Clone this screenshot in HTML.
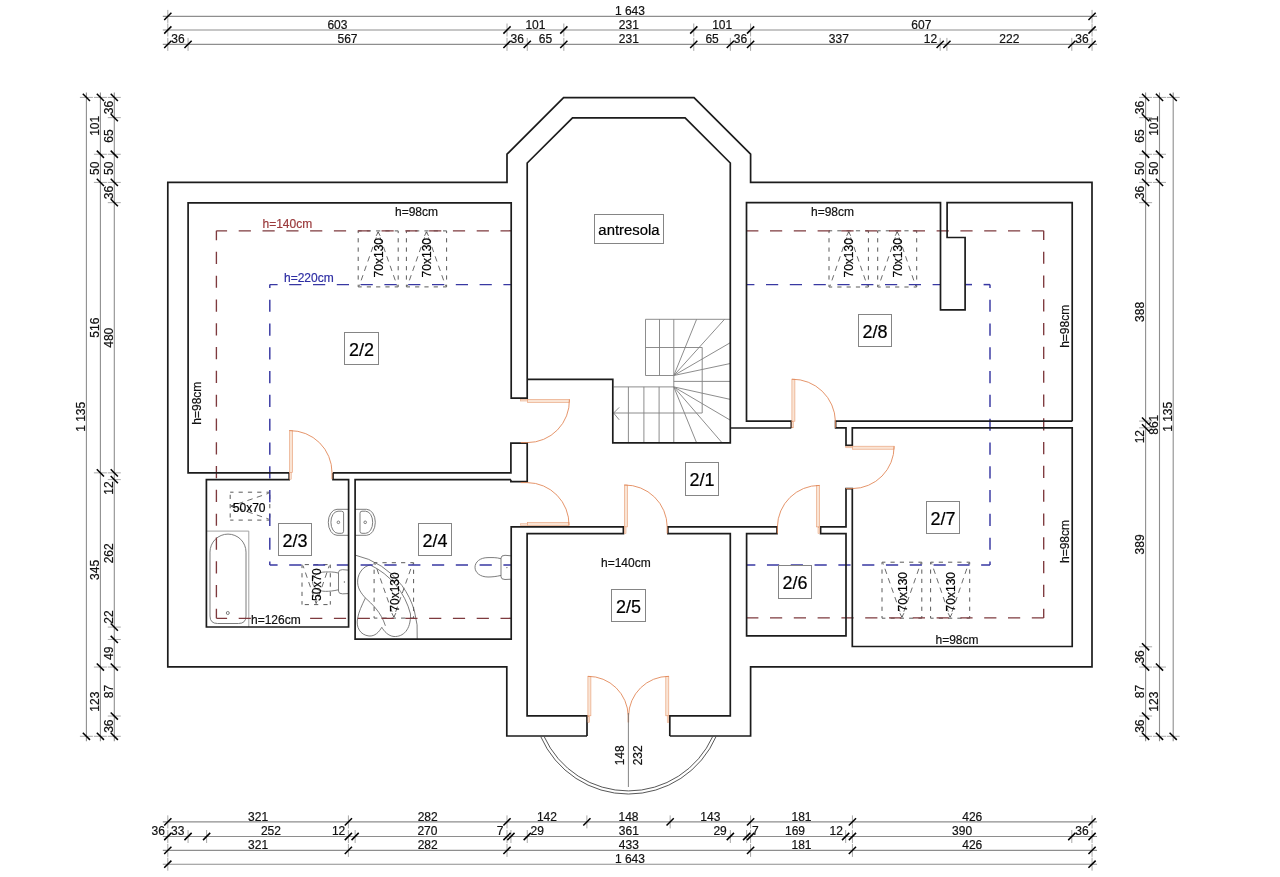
<!DOCTYPE html>
<html><head><meta charset="utf-8"><style>html,body{margin:0;padding:0;background:#fff;overflow:hidden}</style></head>
<body>
<svg width="1280" height="877" viewBox="0 0 1280 877" style="display:block;will-change:transform">
<rect width="1280" height="877" fill="#fff"/>
<g font-family='"Liberation Sans", sans-serif'>
<line x1="162.8" y1="16.4" x2="1097.05" y2="16.4" stroke="#8e8e8e" stroke-width="1.1" />
<line x1="167.8" y1="9.9" x2="167.8" y2="22.9" stroke="#a8a8a8" stroke-width="1" />
<line x1="1092.05" y1="9.9" x2="1092.05" y2="22.9" stroke="#a8a8a8" stroke-width="1" />
<line x1="164.2" y1="20" x2="171.4" y2="12.8" stroke="#000" stroke-width="1.5" />
<line x1="1088.45" y1="20" x2="1095.65" y2="12.8" stroke="#000" stroke-width="1.5" />
<text x="629.93" y="15.3" font-size="12" text-anchor="middle" fill="#111" stroke="#111" stroke-width="0.2" >1 643</text>
<line x1="162.8" y1="30" x2="1097.05" y2="30" stroke="#8e8e8e" stroke-width="1.1" />
<line x1="167.8" y1="23.5" x2="167.8" y2="36.5" stroke="#a8a8a8" stroke-width="1" />
<line x1="507.01" y1="23.5" x2="507.01" y2="36.5" stroke="#a8a8a8" stroke-width="1" />
<line x1="563.83" y1="23.5" x2="563.83" y2="36.5" stroke="#a8a8a8" stroke-width="1" />
<line x1="693.77" y1="23.5" x2="693.77" y2="36.5" stroke="#a8a8a8" stroke-width="1" />
<line x1="750.59" y1="23.5" x2="750.59" y2="36.5" stroke="#a8a8a8" stroke-width="1" />
<line x1="1092.05" y1="23.5" x2="1092.05" y2="36.5" stroke="#a8a8a8" stroke-width="1" />
<line x1="164.2" y1="33.6" x2="171.4" y2="26.4" stroke="#000" stroke-width="1.5" />
<line x1="503.41" y1="33.6" x2="510.61" y2="26.4" stroke="#000" stroke-width="1.5" />
<line x1="560.23" y1="33.6" x2="567.43" y2="26.4" stroke="#000" stroke-width="1.5" />
<line x1="690.17" y1="33.6" x2="697.37" y2="26.4" stroke="#000" stroke-width="1.5" />
<line x1="746.99" y1="33.6" x2="754.19" y2="26.4" stroke="#000" stroke-width="1.5" />
<line x1="1088.45" y1="33.6" x2="1095.65" y2="26.4" stroke="#000" stroke-width="1.5" />
<text x="337.41" y="28.9" font-size="12" text-anchor="middle" fill="#111" stroke="#111" stroke-width="0.2" >603</text>
<text x="535.42" y="28.9" font-size="12" text-anchor="middle" fill="#111" stroke="#111" stroke-width="0.2" >101</text>
<text x="628.8" y="28.9" font-size="12" text-anchor="middle" fill="#111" stroke="#111" stroke-width="0.2" >231</text>
<text x="722.18" y="28.9" font-size="12" text-anchor="middle" fill="#111" stroke="#111" stroke-width="0.2" >101</text>
<text x="921.32" y="28.9" font-size="12" text-anchor="middle" fill="#111" stroke="#111" stroke-width="0.2" >607</text>
<line x1="162.8" y1="44.4" x2="1097.05" y2="44.4" stroke="#8e8e8e" stroke-width="1.1" />
<line x1="167.8" y1="37.9" x2="167.8" y2="50.9" stroke="#a8a8a8" stroke-width="1" />
<line x1="188.05" y1="37.9" x2="188.05" y2="50.9" stroke="#a8a8a8" stroke-width="1" />
<line x1="507.01" y1="37.9" x2="507.01" y2="50.9" stroke="#a8a8a8" stroke-width="1" />
<line x1="527.26" y1="37.9" x2="527.26" y2="50.9" stroke="#a8a8a8" stroke-width="1" />
<line x1="563.83" y1="37.9" x2="563.83" y2="50.9" stroke="#a8a8a8" stroke-width="1" />
<line x1="693.77" y1="37.9" x2="693.77" y2="50.9" stroke="#a8a8a8" stroke-width="1" />
<line x1="730.34" y1="37.9" x2="730.34" y2="50.9" stroke="#a8a8a8" stroke-width="1" />
<line x1="750.59" y1="37.9" x2="750.59" y2="50.9" stroke="#a8a8a8" stroke-width="1" />
<line x1="940.17" y1="37.9" x2="940.17" y2="50.9" stroke="#a8a8a8" stroke-width="1" />
<line x1="946.92" y1="37.9" x2="946.92" y2="50.9" stroke="#a8a8a8" stroke-width="1" />
<line x1="1071.8" y1="37.9" x2="1071.8" y2="50.9" stroke="#a8a8a8" stroke-width="1" />
<line x1="1092.05" y1="37.9" x2="1092.05" y2="50.9" stroke="#a8a8a8" stroke-width="1" />
<line x1="164.2" y1="48" x2="171.4" y2="40.8" stroke="#000" stroke-width="1.5" />
<line x1="184.45" y1="48" x2="191.65" y2="40.8" stroke="#000" stroke-width="1.5" />
<line x1="503.41" y1="48" x2="510.61" y2="40.8" stroke="#000" stroke-width="1.5" />
<line x1="523.66" y1="48" x2="530.86" y2="40.8" stroke="#000" stroke-width="1.5" />
<line x1="560.23" y1="48" x2="567.43" y2="40.8" stroke="#000" stroke-width="1.5" />
<line x1="690.17" y1="48" x2="697.37" y2="40.8" stroke="#000" stroke-width="1.5" />
<line x1="726.74" y1="48" x2="733.94" y2="40.8" stroke="#000" stroke-width="1.5" />
<line x1="746.99" y1="48" x2="754.19" y2="40.8" stroke="#000" stroke-width="1.5" />
<line x1="936.57" y1="48" x2="943.77" y2="40.8" stroke="#000" stroke-width="1.5" />
<line x1="943.32" y1="48" x2="950.52" y2="40.8" stroke="#000" stroke-width="1.5" />
<line x1="1068.2" y1="48" x2="1075.4" y2="40.8" stroke="#000" stroke-width="1.5" />
<line x1="1088.45" y1="48" x2="1095.65" y2="40.8" stroke="#000" stroke-width="1.5" />
<text x="177.93" y="43.3" font-size="12" text-anchor="middle" fill="#111" stroke="#111" stroke-width="0.2" >36</text>
<text x="347.53" y="43.3" font-size="12" text-anchor="middle" fill="#111" stroke="#111" stroke-width="0.2" >567</text>
<text x="517.14" y="43.3" font-size="12" text-anchor="middle" fill="#111" stroke="#111" stroke-width="0.2" >36</text>
<text x="545.55" y="43.3" font-size="12" text-anchor="middle" fill="#111" stroke="#111" stroke-width="0.2" >65</text>
<text x="628.8" y="43.3" font-size="12" text-anchor="middle" fill="#111" stroke="#111" stroke-width="0.2" >231</text>
<text x="712.06" y="43.3" font-size="12" text-anchor="middle" fill="#111" stroke="#111" stroke-width="0.2" >65</text>
<text x="740.47" y="43.3" font-size="12" text-anchor="middle" fill="#111" stroke="#111" stroke-width="0.2" >36</text>
<text x="838.8" y="43.3" font-size="12" text-anchor="middle" fill="#111" stroke="#111" stroke-width="0.2" >337</text>
<text x="930.5" y="43.3" font-size="12" text-anchor="middle" fill="#111" stroke="#111" stroke-width="0.2" >12</text>
<text x="1009.36" y="43.3" font-size="12" text-anchor="middle" fill="#111" stroke="#111" stroke-width="0.2" >222</text>
<text x="1081.93" y="43.3" font-size="12" text-anchor="middle" fill="#111" stroke="#111" stroke-width="0.2" >36</text>
<line x1="162.8" y1="821.9" x2="1097.05" y2="821.9" stroke="#8e8e8e" stroke-width="1.1" />
<line x1="167.8" y1="815.4" x2="167.8" y2="828.4" stroke="#a8a8a8" stroke-width="1" />
<line x1="348.38" y1="815.4" x2="348.38" y2="828.4" stroke="#a8a8a8" stroke-width="1" />
<line x1="507.01" y1="815.4" x2="507.01" y2="828.4" stroke="#a8a8a8" stroke-width="1" />
<line x1="586.89" y1="815.4" x2="586.89" y2="828.4" stroke="#a8a8a8" stroke-width="1" />
<line x1="670.15" y1="815.4" x2="670.15" y2="828.4" stroke="#a8a8a8" stroke-width="1" />
<line x1="750.59" y1="815.4" x2="750.59" y2="828.4" stroke="#a8a8a8" stroke-width="1" />
<line x1="852.41" y1="815.4" x2="852.41" y2="828.4" stroke="#a8a8a8" stroke-width="1" />
<line x1="1092.05" y1="815.4" x2="1092.05" y2="828.4" stroke="#a8a8a8" stroke-width="1" />
<line x1="164.2" y1="825.5" x2="171.4" y2="818.3" stroke="#000" stroke-width="1.5" />
<line x1="344.78" y1="825.5" x2="351.98" y2="818.3" stroke="#000" stroke-width="1.5" />
<line x1="503.41" y1="825.5" x2="510.61" y2="818.3" stroke="#000" stroke-width="1.5" />
<line x1="583.29" y1="825.5" x2="590.49" y2="818.3" stroke="#000" stroke-width="1.5" />
<line x1="666.55" y1="825.5" x2="673.75" y2="818.3" stroke="#000" stroke-width="1.5" />
<line x1="746.99" y1="825.5" x2="754.19" y2="818.3" stroke="#000" stroke-width="1.5" />
<line x1="848.81" y1="825.5" x2="856.01" y2="818.3" stroke="#000" stroke-width="1.5" />
<line x1="1088.45" y1="825.5" x2="1095.65" y2="818.3" stroke="#000" stroke-width="1.5" />
<text x="258.09" y="820.8" font-size="12" text-anchor="middle" fill="#111" stroke="#111" stroke-width="0.2" >321</text>
<text x="427.69" y="820.8" font-size="12" text-anchor="middle" fill="#111" stroke="#111" stroke-width="0.2" >282</text>
<text x="546.95" y="820.8" font-size="12" text-anchor="middle" fill="#111" stroke="#111" stroke-width="0.2" >142</text>
<text x="628.52" y="820.8" font-size="12" text-anchor="middle" fill="#111" stroke="#111" stroke-width="0.2" >148</text>
<text x="710.37" y="820.8" font-size="12" text-anchor="middle" fill="#111" stroke="#111" stroke-width="0.2" >143</text>
<text x="801.5" y="820.8" font-size="12" text-anchor="middle" fill="#111" stroke="#111" stroke-width="0.2" >181</text>
<text x="972.23" y="820.8" font-size="12" text-anchor="middle" fill="#111" stroke="#111" stroke-width="0.2" >426</text>
<line x1="162.8" y1="836.5" x2="1097.05" y2="836.5" stroke="#8e8e8e" stroke-width="1.1" />
<line x1="167.8" y1="830" x2="167.8" y2="843" stroke="#a8a8a8" stroke-width="1" />
<line x1="188.05" y1="830" x2="188.05" y2="843" stroke="#a8a8a8" stroke-width="1" />
<line x1="206.62" y1="830" x2="206.62" y2="843" stroke="#a8a8a8" stroke-width="1" />
<line x1="348.38" y1="830" x2="348.38" y2="843" stroke="#a8a8a8" stroke-width="1" />
<line x1="355.13" y1="830" x2="355.13" y2="843" stroke="#a8a8a8" stroke-width="1" />
<line x1="507.01" y1="830" x2="507.01" y2="843" stroke="#a8a8a8" stroke-width="1" />
<line x1="510.95" y1="830" x2="510.95" y2="843" stroke="#a8a8a8" stroke-width="1" />
<line x1="527.26" y1="830" x2="527.26" y2="843" stroke="#a8a8a8" stroke-width="1" />
<line x1="730.34" y1="830" x2="730.34" y2="843" stroke="#a8a8a8" stroke-width="1" />
<line x1="746.65" y1="830" x2="746.65" y2="843" stroke="#a8a8a8" stroke-width="1" />
<line x1="750.59" y1="830" x2="750.59" y2="843" stroke="#a8a8a8" stroke-width="1" />
<line x1="845.66" y1="830" x2="845.66" y2="843" stroke="#a8a8a8" stroke-width="1" />
<line x1="852.41" y1="830" x2="852.41" y2="843" stroke="#a8a8a8" stroke-width="1" />
<line x1="1071.8" y1="830" x2="1071.8" y2="843" stroke="#a8a8a8" stroke-width="1" />
<line x1="1092.05" y1="830" x2="1092.05" y2="843" stroke="#a8a8a8" stroke-width="1" />
<line x1="164.2" y1="840.1" x2="171.4" y2="832.9" stroke="#000" stroke-width="1.5" />
<line x1="184.45" y1="840.1" x2="191.65" y2="832.9" stroke="#000" stroke-width="1.5" />
<line x1="203.02" y1="840.1" x2="210.22" y2="832.9" stroke="#000" stroke-width="1.5" />
<line x1="344.78" y1="840.1" x2="351.98" y2="832.9" stroke="#000" stroke-width="1.5" />
<line x1="351.53" y1="840.1" x2="358.73" y2="832.9" stroke="#000" stroke-width="1.5" />
<line x1="503.41" y1="840.1" x2="510.61" y2="832.9" stroke="#000" stroke-width="1.5" />
<line x1="507.35" y1="840.1" x2="514.55" y2="832.9" stroke="#000" stroke-width="1.5" />
<line x1="523.66" y1="840.1" x2="530.86" y2="832.9" stroke="#000" stroke-width="1.5" />
<line x1="726.74" y1="840.1" x2="733.94" y2="832.9" stroke="#000" stroke-width="1.5" />
<line x1="743.05" y1="840.1" x2="750.25" y2="832.9" stroke="#000" stroke-width="1.5" />
<line x1="746.99" y1="840.1" x2="754.19" y2="832.9" stroke="#000" stroke-width="1.5" />
<line x1="842.06" y1="840.1" x2="849.26" y2="832.9" stroke="#000" stroke-width="1.5" />
<line x1="848.81" y1="840.1" x2="856.01" y2="832.9" stroke="#000" stroke-width="1.5" />
<line x1="1068.2" y1="840.1" x2="1075.4" y2="832.9" stroke="#000" stroke-width="1.5" />
<line x1="1088.45" y1="840.1" x2="1095.65" y2="832.9" stroke="#000" stroke-width="1.5" />
<text x="158.2" y="835.4" font-size="12" text-anchor="middle" fill="#111" stroke="#111" stroke-width="0.2" >36</text>
<text x="177.8" y="835.4" font-size="12" text-anchor="middle" fill="#111" stroke="#111" stroke-width="0.2" >33</text>
<text x="270.9" y="835.4" font-size="12" text-anchor="middle" fill="#111" stroke="#111" stroke-width="0.2" >252</text>
<text x="338.6" y="835.4" font-size="12" text-anchor="middle" fill="#111" stroke="#111" stroke-width="0.2" >12</text>
<text x="427.4" y="835.4" font-size="12" text-anchor="middle" fill="#111" stroke="#111" stroke-width="0.2" >270</text>
<text x="500" y="835.4" font-size="12" text-anchor="middle" fill="#111" stroke="#111" stroke-width="0.2" >7</text>
<text x="537.2" y="835.4" font-size="12" text-anchor="middle" fill="#111" stroke="#111" stroke-width="0.2" >29</text>
<text x="628.8" y="835.4" font-size="12" text-anchor="middle" fill="#111" stroke="#111" stroke-width="0.2" >361</text>
<text x="720.1" y="835.4" font-size="12" text-anchor="middle" fill="#111" stroke="#111" stroke-width="0.2" >29</text>
<text x="755.4" y="835.4" font-size="12" text-anchor="middle" fill="#111" stroke="#111" stroke-width="0.2" >7</text>
<text x="795" y="835.4" font-size="12" text-anchor="middle" fill="#111" stroke="#111" stroke-width="0.2" >169</text>
<text x="836.2" y="835.4" font-size="12" text-anchor="middle" fill="#111" stroke="#111" stroke-width="0.2" >12</text>
<text x="962.11" y="835.4" font-size="12" text-anchor="middle" fill="#111" stroke="#111" stroke-width="0.2" >390</text>
<text x="1081.93" y="835.4" font-size="12" text-anchor="middle" fill="#111" stroke="#111" stroke-width="0.2" >36</text>
<line x1="162.8" y1="850.4" x2="1097.05" y2="850.4" stroke="#8e8e8e" stroke-width="1.1" />
<line x1="167.8" y1="843.9" x2="167.8" y2="856.9" stroke="#a8a8a8" stroke-width="1" />
<line x1="348.38" y1="843.9" x2="348.38" y2="856.9" stroke="#a8a8a8" stroke-width="1" />
<line x1="507.01" y1="843.9" x2="507.01" y2="856.9" stroke="#a8a8a8" stroke-width="1" />
<line x1="750.59" y1="843.9" x2="750.59" y2="856.9" stroke="#a8a8a8" stroke-width="1" />
<line x1="852.41" y1="843.9" x2="852.41" y2="856.9" stroke="#a8a8a8" stroke-width="1" />
<line x1="1092.05" y1="843.9" x2="1092.05" y2="856.9" stroke="#a8a8a8" stroke-width="1" />
<line x1="164.2" y1="854" x2="171.4" y2="846.8" stroke="#000" stroke-width="1.5" />
<line x1="344.78" y1="854" x2="351.98" y2="846.8" stroke="#000" stroke-width="1.5" />
<line x1="503.41" y1="854" x2="510.61" y2="846.8" stroke="#000" stroke-width="1.5" />
<line x1="746.99" y1="854" x2="754.19" y2="846.8" stroke="#000" stroke-width="1.5" />
<line x1="848.81" y1="854" x2="856.01" y2="846.8" stroke="#000" stroke-width="1.5" />
<line x1="1088.45" y1="854" x2="1095.65" y2="846.8" stroke="#000" stroke-width="1.5" />
<text x="258.09" y="849.3" font-size="12" text-anchor="middle" fill="#111" stroke="#111" stroke-width="0.2" >321</text>
<text x="427.69" y="849.3" font-size="12" text-anchor="middle" fill="#111" stroke="#111" stroke-width="0.2" >282</text>
<text x="628.8" y="849.3" font-size="12" text-anchor="middle" fill="#111" stroke="#111" stroke-width="0.2" >433</text>
<text x="801.5" y="849.3" font-size="12" text-anchor="middle" fill="#111" stroke="#111" stroke-width="0.2" >181</text>
<text x="972.23" y="849.3" font-size="12" text-anchor="middle" fill="#111" stroke="#111" stroke-width="0.2" >426</text>
<line x1="162.8" y1="864.2" x2="1097.05" y2="864.2" stroke="#8e8e8e" stroke-width="1.1" />
<line x1="167.8" y1="857.7" x2="167.8" y2="870.7" stroke="#a8a8a8" stroke-width="1" />
<line x1="1092.05" y1="857.7" x2="1092.05" y2="870.7" stroke="#a8a8a8" stroke-width="1" />
<line x1="164.2" y1="867.8" x2="171.4" y2="860.6" stroke="#000" stroke-width="1.5" />
<line x1="1088.45" y1="867.8" x2="1095.65" y2="860.6" stroke="#000" stroke-width="1.5" />
<text x="629.93" y="863.1" font-size="12" text-anchor="middle" fill="#111" stroke="#111" stroke-width="0.2" >1 643</text>
<line x1="86.4" y1="92.4" x2="86.4" y2="741.29" stroke="#8e8e8e" stroke-width="1.1" />
<line x1="79.9" y1="97.4" x2="92.9" y2="97.4" stroke="#a8a8a8" stroke-width="1" />
<line x1="79.9" y1="736.29" x2="92.9" y2="736.29" stroke="#a8a8a8" stroke-width="1" />
<line x1="82.8" y1="93.8" x2="90" y2="101" stroke="#000" stroke-width="1.5" />
<line x1="82.8" y1="732.69" x2="90" y2="739.89" stroke="#000" stroke-width="1.5" />
<text transform="translate(84.7,416.85) rotate(-90)" font-size="12" text-anchor="middle" fill="#111" stroke="#111" stroke-width="0.2" >1 135</text>
<line x1="100.4" y1="92.4" x2="100.4" y2="741.29" stroke="#8e8e8e" stroke-width="1.1" />
<line x1="93.9" y1="97.4" x2="106.9" y2="97.4" stroke="#a8a8a8" stroke-width="1" />
<line x1="93.9" y1="154.25" x2="106.9" y2="154.25" stroke="#a8a8a8" stroke-width="1" />
<line x1="93.9" y1="182.4" x2="106.9" y2="182.4" stroke="#a8a8a8" stroke-width="1" />
<line x1="93.9" y1="472.85" x2="106.9" y2="472.85" stroke="#a8a8a8" stroke-width="1" />
<line x1="93.9" y1="667.05" x2="106.9" y2="667.05" stroke="#a8a8a8" stroke-width="1" />
<line x1="93.9" y1="736.29" x2="106.9" y2="736.29" stroke="#a8a8a8" stroke-width="1" />
<line x1="96.8" y1="93.8" x2="104" y2="101" stroke="#000" stroke-width="1.5" />
<line x1="96.8" y1="150.65" x2="104" y2="157.85" stroke="#000" stroke-width="1.5" />
<line x1="96.8" y1="178.8" x2="104" y2="186" stroke="#000" stroke-width="1.5" />
<line x1="96.8" y1="469.25" x2="104" y2="476.45" stroke="#000" stroke-width="1.5" />
<line x1="96.8" y1="663.45" x2="104" y2="670.65" stroke="#000" stroke-width="1.5" />
<line x1="96.8" y1="732.69" x2="104" y2="739.89" stroke="#000" stroke-width="1.5" />
<text transform="translate(98.7,125.83) rotate(-90)" font-size="12" text-anchor="middle" fill="#111" stroke="#111" stroke-width="0.2" >101</text>
<text transform="translate(98.7,168.33) rotate(-90)" font-size="12" text-anchor="middle" fill="#111" stroke="#111" stroke-width="0.2" >50</text>
<text transform="translate(98.7,327.63) rotate(-90)" font-size="12" text-anchor="middle" fill="#111" stroke="#111" stroke-width="0.2" >516</text>
<text transform="translate(98.7,569.95) rotate(-90)" font-size="12" text-anchor="middle" fill="#111" stroke="#111" stroke-width="0.2" >345</text>
<text transform="translate(98.7,701.67) rotate(-90)" font-size="12" text-anchor="middle" fill="#111" stroke="#111" stroke-width="0.2" >123</text>
<line x1="114.3" y1="92.4" x2="114.3" y2="741.29" stroke="#8e8e8e" stroke-width="1.1" />
<line x1="107.8" y1="97.4" x2="120.8" y2="97.4" stroke="#a8a8a8" stroke-width="1" />
<line x1="107.8" y1="117.66" x2="120.8" y2="117.66" stroke="#a8a8a8" stroke-width="1" />
<line x1="107.8" y1="154.25" x2="120.8" y2="154.25" stroke="#a8a8a8" stroke-width="1" />
<line x1="107.8" y1="182.4" x2="120.8" y2="182.4" stroke="#a8a8a8" stroke-width="1" />
<line x1="107.8" y1="202.66" x2="120.8" y2="202.66" stroke="#a8a8a8" stroke-width="1" />
<line x1="107.8" y1="472.85" x2="120.8" y2="472.85" stroke="#a8a8a8" stroke-width="1" />
<line x1="107.8" y1="479.61" x2="120.8" y2="479.61" stroke="#a8a8a8" stroke-width="1" />
<line x1="107.8" y1="627.09" x2="120.8" y2="627.09" stroke="#a8a8a8" stroke-width="1" />
<line x1="107.8" y1="639.47" x2="120.8" y2="639.47" stroke="#a8a8a8" stroke-width="1" />
<line x1="107.8" y1="667.05" x2="120.8" y2="667.05" stroke="#a8a8a8" stroke-width="1" />
<line x1="107.8" y1="716.03" x2="120.8" y2="716.03" stroke="#a8a8a8" stroke-width="1" />
<line x1="107.8" y1="736.29" x2="120.8" y2="736.29" stroke="#a8a8a8" stroke-width="1" />
<line x1="110.7" y1="93.8" x2="117.9" y2="101" stroke="#000" stroke-width="1.5" />
<line x1="110.7" y1="114.06" x2="117.9" y2="121.26" stroke="#000" stroke-width="1.5" />
<line x1="110.7" y1="150.65" x2="117.9" y2="157.85" stroke="#000" stroke-width="1.5" />
<line x1="110.7" y1="178.8" x2="117.9" y2="186" stroke="#000" stroke-width="1.5" />
<line x1="110.7" y1="199.06" x2="117.9" y2="206.26" stroke="#000" stroke-width="1.5" />
<line x1="110.7" y1="469.25" x2="117.9" y2="476.45" stroke="#000" stroke-width="1.5" />
<line x1="110.7" y1="476.01" x2="117.9" y2="483.21" stroke="#000" stroke-width="1.5" />
<line x1="110.7" y1="623.49" x2="117.9" y2="630.69" stroke="#000" stroke-width="1.5" />
<line x1="110.7" y1="635.87" x2="117.9" y2="643.07" stroke="#000" stroke-width="1.5" />
<line x1="110.7" y1="663.45" x2="117.9" y2="670.65" stroke="#000" stroke-width="1.5" />
<line x1="110.7" y1="712.43" x2="117.9" y2="719.63" stroke="#000" stroke-width="1.5" />
<line x1="110.7" y1="732.69" x2="117.9" y2="739.89" stroke="#000" stroke-width="1.5" />
<text transform="translate(112.6,107.53) rotate(-90)" font-size="12" text-anchor="middle" fill="#111" stroke="#111" stroke-width="0.2" >36</text>
<text transform="translate(112.6,135.96) rotate(-90)" font-size="12" text-anchor="middle" fill="#111" stroke="#111" stroke-width="0.2" >65</text>
<text transform="translate(112.6,168.33) rotate(-90)" font-size="12" text-anchor="middle" fill="#111" stroke="#111" stroke-width="0.2" >50</text>
<text transform="translate(112.6,192.53) rotate(-90)" font-size="12" text-anchor="middle" fill="#111" stroke="#111" stroke-width="0.2" >36</text>
<text transform="translate(112.6,337.76) rotate(-90)" font-size="12" text-anchor="middle" fill="#111" stroke="#111" stroke-width="0.2" >480</text>
<text transform="translate(112.6,488) rotate(-90)" font-size="12" text-anchor="middle" fill="#111" stroke="#111" stroke-width="0.2" >12</text>
<text transform="translate(112.6,553.35) rotate(-90)" font-size="12" text-anchor="middle" fill="#111" stroke="#111" stroke-width="0.2" >262</text>
<text transform="translate(112.6,617) rotate(-90)" font-size="12" text-anchor="middle" fill="#111" stroke="#111" stroke-width="0.2" >22</text>
<text transform="translate(112.6,653.26) rotate(-90)" font-size="12" text-anchor="middle" fill="#111" stroke="#111" stroke-width="0.2" >49</text>
<text transform="translate(112.6,691.54) rotate(-90)" font-size="12" text-anchor="middle" fill="#111" stroke="#111" stroke-width="0.2" >87</text>
<text transform="translate(112.6,726.16) rotate(-90)" font-size="12" text-anchor="middle" fill="#111" stroke="#111" stroke-width="0.2" >36</text>
<line x1="1145.6" y1="92.4" x2="1145.6" y2="741.29" stroke="#8e8e8e" stroke-width="1.1" />
<line x1="1139.1" y1="97.4" x2="1152.1" y2="97.4" stroke="#a8a8a8" stroke-width="1" />
<line x1="1139.1" y1="117.66" x2="1152.1" y2="117.66" stroke="#a8a8a8" stroke-width="1" />
<line x1="1139.1" y1="154.25" x2="1152.1" y2="154.25" stroke="#a8a8a8" stroke-width="1" />
<line x1="1139.1" y1="182.4" x2="1152.1" y2="182.4" stroke="#a8a8a8" stroke-width="1" />
<line x1="1139.1" y1="202.66" x2="1152.1" y2="202.66" stroke="#a8a8a8" stroke-width="1" />
<line x1="1139.1" y1="421.07" x2="1152.1" y2="421.07" stroke="#a8a8a8" stroke-width="1" />
<line x1="1139.1" y1="427.82" x2="1152.1" y2="427.82" stroke="#a8a8a8" stroke-width="1" />
<line x1="1139.1" y1="646.79" x2="1152.1" y2="646.79" stroke="#a8a8a8" stroke-width="1" />
<line x1="1139.1" y1="667.05" x2="1152.1" y2="667.05" stroke="#a8a8a8" stroke-width="1" />
<line x1="1139.1" y1="716.03" x2="1152.1" y2="716.03" stroke="#a8a8a8" stroke-width="1" />
<line x1="1139.1" y1="736.29" x2="1152.1" y2="736.29" stroke="#a8a8a8" stroke-width="1" />
<line x1="1142" y1="93.8" x2="1149.2" y2="101" stroke="#000" stroke-width="1.5" />
<line x1="1142" y1="114.06" x2="1149.2" y2="121.26" stroke="#000" stroke-width="1.5" />
<line x1="1142" y1="150.65" x2="1149.2" y2="157.85" stroke="#000" stroke-width="1.5" />
<line x1="1142" y1="178.8" x2="1149.2" y2="186" stroke="#000" stroke-width="1.5" />
<line x1="1142" y1="199.06" x2="1149.2" y2="206.26" stroke="#000" stroke-width="1.5" />
<line x1="1142" y1="417.47" x2="1149.2" y2="424.67" stroke="#000" stroke-width="1.5" />
<line x1="1142" y1="424.22" x2="1149.2" y2="431.42" stroke="#000" stroke-width="1.5" />
<line x1="1142" y1="643.19" x2="1149.2" y2="650.39" stroke="#000" stroke-width="1.5" />
<line x1="1142" y1="663.45" x2="1149.2" y2="670.65" stroke="#000" stroke-width="1.5" />
<line x1="1142" y1="712.43" x2="1149.2" y2="719.63" stroke="#000" stroke-width="1.5" />
<line x1="1142" y1="732.69" x2="1149.2" y2="739.89" stroke="#000" stroke-width="1.5" />
<text transform="translate(1143.9,107.53) rotate(-90)" font-size="12" text-anchor="middle" fill="#111" stroke="#111" stroke-width="0.2" >36</text>
<text transform="translate(1143.9,135.96) rotate(-90)" font-size="12" text-anchor="middle" fill="#111" stroke="#111" stroke-width="0.2" >65</text>
<text transform="translate(1143.9,168.33) rotate(-90)" font-size="12" text-anchor="middle" fill="#111" stroke="#111" stroke-width="0.2" >50</text>
<text transform="translate(1143.9,192.53) rotate(-90)" font-size="12" text-anchor="middle" fill="#111" stroke="#111" stroke-width="0.2" >36</text>
<text transform="translate(1143.9,311.86) rotate(-90)" font-size="12" text-anchor="middle" fill="#111" stroke="#111" stroke-width="0.2" >388</text>
<text transform="translate(1143.9,436.7) rotate(-90)" font-size="12" text-anchor="middle" fill="#111" stroke="#111" stroke-width="0.2" >12</text>
<text transform="translate(1143.9,544.4) rotate(-90)" font-size="12" text-anchor="middle" fill="#111" stroke="#111" stroke-width="0.2" >389</text>
<text transform="translate(1143.9,656.92) rotate(-90)" font-size="12" text-anchor="middle" fill="#111" stroke="#111" stroke-width="0.2" >36</text>
<text transform="translate(1143.9,691.54) rotate(-90)" font-size="12" text-anchor="middle" fill="#111" stroke="#111" stroke-width="0.2" >87</text>
<text transform="translate(1143.9,726.16) rotate(-90)" font-size="12" text-anchor="middle" fill="#111" stroke="#111" stroke-width="0.2" >36</text>
<line x1="1159.5" y1="92.4" x2="1159.5" y2="741.29" stroke="#8e8e8e" stroke-width="1.1" />
<line x1="1153" y1="97.4" x2="1166" y2="97.4" stroke="#a8a8a8" stroke-width="1" />
<line x1="1153" y1="154.25" x2="1166" y2="154.25" stroke="#a8a8a8" stroke-width="1" />
<line x1="1153" y1="182.4" x2="1166" y2="182.4" stroke="#a8a8a8" stroke-width="1" />
<line x1="1153" y1="667.05" x2="1166" y2="667.05" stroke="#a8a8a8" stroke-width="1" />
<line x1="1153" y1="736.29" x2="1166" y2="736.29" stroke="#a8a8a8" stroke-width="1" />
<line x1="1155.9" y1="93.8" x2="1163.1" y2="101" stroke="#000" stroke-width="1.5" />
<line x1="1155.9" y1="150.65" x2="1163.1" y2="157.85" stroke="#000" stroke-width="1.5" />
<line x1="1155.9" y1="178.8" x2="1163.1" y2="186" stroke="#000" stroke-width="1.5" />
<line x1="1155.9" y1="663.45" x2="1163.1" y2="670.65" stroke="#000" stroke-width="1.5" />
<line x1="1155.9" y1="732.69" x2="1163.1" y2="739.89" stroke="#000" stroke-width="1.5" />
<text transform="translate(1157.8,125.83) rotate(-90)" font-size="12" text-anchor="middle" fill="#111" stroke="#111" stroke-width="0.2" >101</text>
<text transform="translate(1157.8,168.33) rotate(-90)" font-size="12" text-anchor="middle" fill="#111" stroke="#111" stroke-width="0.2" >50</text>
<text transform="translate(1157.8,424.73) rotate(-90)" font-size="12" text-anchor="middle" fill="#111" stroke="#111" stroke-width="0.2" >861</text>
<text transform="translate(1157.8,701.67) rotate(-90)" font-size="12" text-anchor="middle" fill="#111" stroke="#111" stroke-width="0.2" >123</text>
<line x1="1173.2" y1="92.4" x2="1173.2" y2="741.29" stroke="#8e8e8e" stroke-width="1.1" />
<line x1="1166.7" y1="97.4" x2="1179.7" y2="97.4" stroke="#a8a8a8" stroke-width="1" />
<line x1="1166.7" y1="736.29" x2="1179.7" y2="736.29" stroke="#a8a8a8" stroke-width="1" />
<line x1="1169.6" y1="93.8" x2="1176.8" y2="101" stroke="#000" stroke-width="1.5" />
<line x1="1169.6" y1="732.69" x2="1176.8" y2="739.89" stroke="#000" stroke-width="1.5" />
<text transform="translate(1171.5,416.85) rotate(-90)" font-size="12" text-anchor="middle" fill="#111" stroke="#111" stroke-width="0.2" >1 135</text>
<line x1="645.5" y1="319.3" x2="730.3" y2="319.3" stroke="#808080" stroke-width="0.9" fill="none"/>
<line x1="645.5" y1="319.3" x2="645.5" y2="375.5" stroke="#808080" stroke-width="0.9" fill="none"/>
<line x1="659.5" y1="319.3" x2="659.5" y2="375.5" stroke="#808080" stroke-width="0.9" fill="none"/>
<line x1="673.8" y1="319.3" x2="673.8" y2="442.8" stroke="#808080" stroke-width="0.9" fill="none"/>
<line x1="645.5" y1="347.5" x2="702.2" y2="347.5" stroke="#808080" stroke-width="0.9" fill="none"/>
<line x1="645.5" y1="375.5" x2="673.8" y2="375.5" stroke="#808080" stroke-width="0.9" fill="none"/>
<line x1="702.2" y1="347.5" x2="702.2" y2="413" stroke="#808080" stroke-width="0.9" fill="none"/>
<line x1="613.6" y1="413" x2="702.2" y2="413" stroke="#808080" stroke-width="0.9" fill="none"/>
<line x1="613.6" y1="386.9" x2="673.8" y2="386.9" stroke="#808080" stroke-width="0.9" fill="none"/>
<line x1="628.4" y1="386.9" x2="628.4" y2="442.8" stroke="#808080" stroke-width="0.9" fill="none"/>
<line x1="643.9" y1="386.9" x2="643.9" y2="442.8" stroke="#808080" stroke-width="0.9" fill="none"/>
<line x1="659.1" y1="386.9" x2="659.1" y2="442.8" stroke="#808080" stroke-width="0.9" fill="none"/>
<line x1="673.8" y1="381.4" x2="730.3" y2="381.4" stroke="#808080" stroke-width="0.9" fill="none"/>
<line x1="673.8" y1="375.5" x2="696.6" y2="319.3" stroke="#808080" stroke-width="0.9" fill="none"/>
<line x1="673.8" y1="375.5" x2="724.5" y2="319.3" stroke="#808080" stroke-width="0.9" fill="none"/>
<line x1="673.8" y1="375.5" x2="730.3" y2="342.7" stroke="#808080" stroke-width="0.9" fill="none"/>
<line x1="673.8" y1="375.5" x2="730.3" y2="363.5" stroke="#808080" stroke-width="0.9" fill="none"/>
<line x1="673.8" y1="386.9" x2="730.3" y2="399.4" stroke="#808080" stroke-width="0.9" fill="none"/>
<line x1="673.8" y1="386.9" x2="730.3" y2="420.2" stroke="#808080" stroke-width="0.9" fill="none"/>
<line x1="673.8" y1="386.9" x2="722.1" y2="442.8" stroke="#808080" stroke-width="0.9" fill="none"/>
<line x1="673.8" y1="386.9" x2="696.6" y2="442.8" stroke="#808080" stroke-width="0.9" fill="none"/>
<line x1="613.6" y1="413" x2="619.2" y2="407.4" stroke="#808080" stroke-width="0.9" fill="none"/>
<line x1="613.6" y1="413" x2="619.2" y2="419.8" stroke="#808080" stroke-width="0.9" fill="none"/>
<path d="M348.5,509.3 L337,509.3 A8.7,13 0 0 0 337,535.3 L348.5,535.3" fill="none" stroke="#6e6e6e" stroke-width="0.9"/>
<path d="M343.6,513.2 Q343.6,511.2 341.6,511.2 L338,511.2 A7.1,11.05 0 0 0 338,533.3 L341.6,533.3 Q343.6,533.3 343.6,531.3 Z" fill="none" stroke="#6e6e6e" stroke-width="0.9"/>
<circle cx="338.4" cy="522.3" r="1.3" fill="none" stroke="#6e6e6e" stroke-width="0.9"/>
<path d="M355.1,509.3 L366.6,509.3 A8.7,13 0 0 1 366.6,535.3 L355.1,535.3" fill="none" stroke="#6e6e6e" stroke-width="0.9"/>
<path d="M360,513.2 Q360,511.2 362,511.2 L365.6,511.2 A7.1,11.05 0 0 1 365.6,533.3 L362,533.3 Q360,533.3 360,531.3 Z" fill="none" stroke="#6e6e6e" stroke-width="0.9"/>
<circle cx="365.2" cy="522.3" r="1.3" fill="none" stroke="#6e6e6e" stroke-width="0.9"/>
<g transform="translate(0,0)">
<path d="M501,558.7 C496,557.3 492,557.6 488,557.6 C480,557.6 475,562 475,567.3 C475,572.5 480,577 488,577 C492,577 496,576.6 501,575.4" fill="none" stroke="#6e6e6e" stroke-width="0.9"/>
<path d="M511,555.8 L505,555.3 Q501,555.3 501,558 L501,576.8 Q501,579.5 505,579.5 L511,579.2" fill="none" stroke="#6e6e6e" stroke-width="0.9"/>
<circle cx="506.9" cy="567.6" r="0.7" fill="#6e6e6e"/>
</g>
<g transform="translate(-162.5,14.35)">
<path d="M501,558.7 C496,557.3 492,557.6 488,557.6 C480,557.6 475,562 475,567.3 C475,572.5 480,577 488,577 C492,577 496,576.6 501,575.4" fill="none" stroke="#6e6e6e" stroke-width="0.9"/>
<path d="M511,555.8 L505,555.3 Q501,555.3 501,558 L501,576.8 Q501,579.5 505,579.5 L511,579.2" fill="none" stroke="#6e6e6e" stroke-width="0.9"/>
<circle cx="506.9" cy="567.6" r="0.7" fill="#6e6e6e"/>
</g>
<path d="M206.4,531.1 L248.8,531.1 L248.8,627" fill="none" stroke="#999" stroke-width="0.9"/>
<path d="M210,552.1 A18,18 0 0 1 246,552.1 L246,616 Q246,623.5 238.5,623.5 L217.5,623.5 Q210,623.5 210,616 Z" fill="none" stroke="#6e6e6e" stroke-width="0.9"/>
<circle cx="227.8" cy="613" r="1.5" fill="none" stroke="#6e6e6e" stroke-width="0.9"/>
<path d="M355.1,555.1 A79.5,79.5 0 0 1 417.2,639.1" fill="none" stroke="#6e6e6e" stroke-width="0.9"/>
<path d="M370.3,565 A75,75 0 0 1 410.5,614 C411,630 403,637 394,636.5 C388,636 384,631 381.8,627.3 C379,632 375,636.5 369,636 C360,635 356,627 357.5,619 C358.5,612 362,605 365.4,598 C361,593 357,588 357.7,580 C358.5,572 364,566 370.3,565 Z" fill="none" stroke="#6e6e6e" stroke-width="0.9"/>
<path d="M365.4,598 C372,604 381,612 385.4,625.8" fill="none" stroke="#6e6e6e" stroke-width="0.9"/>
<line x1="358.2" y1="230.9" x2="398.2" y2="230.9" stroke="#5a5a5a" stroke-width="1" stroke-dasharray="4.2 5.1" stroke-dashoffset="0.7" />
<line x1="398.2" y1="230.9" x2="398.2" y2="286.9" stroke="#5a5a5a" stroke-width="1" stroke-dasharray="4.2 5.1" stroke-dashoffset="2" />
<line x1="398.2" y1="286.9" x2="358.2" y2="286.9" stroke="#5a5a5a" stroke-width="1" stroke-dasharray="4.2 5.1" stroke-dashoffset="0.7" />
<line x1="358.2" y1="286.9" x2="358.2" y2="230.9" stroke="#5a5a5a" stroke-width="1" stroke-dasharray="4.2 5.1" stroke-dashoffset="2" />
<line x1="359.2" y1="285.9" x2="378.2" y2="231.9" stroke="#5a5a5a" stroke-width="0.9" stroke-dasharray="5.5 4.5" stroke-dashoffset="4.13" />
<line x1="397.2" y1="285.9" x2="378.2" y2="231.9" stroke="#5a5a5a" stroke-width="0.9" stroke-dasharray="5.5 4.5" stroke-dashoffset="4.13" />
<path d="M376.2,235.9 L378.2,231.9 L380.2,235.9" fill="none" stroke="#5a5a5a" stroke-width="0.9"/>
<text transform="translate(383,257.7) rotate(-90)" font-size="12" text-anchor="middle" fill="#000" stroke="#000" stroke-width="0.2" >70x130</text>
<line x1="406.4" y1="230.9" x2="446.6" y2="230.9" stroke="#5a5a5a" stroke-width="1" stroke-dasharray="4.2 5.1" stroke-dashoffset="0.6" />
<line x1="446.6" y1="230.9" x2="446.6" y2="286.9" stroke="#5a5a5a" stroke-width="1" stroke-dasharray="4.2 5.1" stroke-dashoffset="2" />
<line x1="446.6" y1="286.9" x2="406.4" y2="286.9" stroke="#5a5a5a" stroke-width="1" stroke-dasharray="4.2 5.1" stroke-dashoffset="0.6" />
<line x1="406.4" y1="286.9" x2="406.4" y2="230.9" stroke="#5a5a5a" stroke-width="1" stroke-dasharray="4.2 5.1" stroke-dashoffset="2" />
<line x1="407.4" y1="285.9" x2="426.5" y2="231.9" stroke="#5a5a5a" stroke-width="0.9" stroke-dasharray="5.5 4.5" stroke-dashoffset="4.11" />
<line x1="445.6" y1="285.9" x2="426.5" y2="231.9" stroke="#5a5a5a" stroke-width="0.9" stroke-dasharray="5.5 4.5" stroke-dashoffset="4.11" />
<path d="M424.5,235.9 L426.5,231.9 L428.5,235.9" fill="none" stroke="#5a5a5a" stroke-width="0.9"/>
<text transform="translate(431.2,257.7) rotate(-90)" font-size="12" text-anchor="middle" fill="#000" stroke="#000" stroke-width="0.2" >70x130</text>
<line x1="829" y1="230.8" x2="868.4" y2="230.8" stroke="#5a5a5a" stroke-width="1" stroke-dasharray="4.2 5.1" stroke-dashoffset="1" />
<line x1="868.4" y1="230.8" x2="868.4" y2="287" stroke="#5a5a5a" stroke-width="1" stroke-dasharray="4.2 5.1" stroke-dashoffset="1.9" />
<line x1="868.4" y1="287" x2="829" y2="287" stroke="#5a5a5a" stroke-width="1" stroke-dasharray="4.2 5.1" stroke-dashoffset="1" />
<line x1="829" y1="287" x2="829" y2="230.8" stroke="#5a5a5a" stroke-width="1" stroke-dasharray="4.2 5.1" stroke-dashoffset="1.9" />
<line x1="830" y1="286" x2="848.7" y2="231.8" stroke="#5a5a5a" stroke-width="0.9" stroke-dasharray="5.5 4.5" stroke-dashoffset="4.08" />
<line x1="867.4" y1="286" x2="848.7" y2="231.8" stroke="#5a5a5a" stroke-width="0.9" stroke-dasharray="5.5 4.5" stroke-dashoffset="4.08" />
<path d="M846.7,235.8 L848.7,231.8 L850.7,235.8" fill="none" stroke="#5a5a5a" stroke-width="0.9"/>
<text transform="translate(853.4,257.8) rotate(-90)" font-size="12" text-anchor="middle" fill="#000" stroke="#000" stroke-width="0.2" >70x130</text>
<line x1="877.7" y1="230.8" x2="916.7" y2="230.8" stroke="#5a5a5a" stroke-width="1" stroke-dasharray="4.2 5.1" stroke-dashoffset="1.2" />
<line x1="916.7" y1="230.8" x2="916.7" y2="287" stroke="#5a5a5a" stroke-width="1" stroke-dasharray="4.2 5.1" stroke-dashoffset="1.9" />
<line x1="916.7" y1="287" x2="877.7" y2="287" stroke="#5a5a5a" stroke-width="1" stroke-dasharray="4.2 5.1" stroke-dashoffset="1.2" />
<line x1="877.7" y1="287" x2="877.7" y2="230.8" stroke="#5a5a5a" stroke-width="1" stroke-dasharray="4.2 5.1" stroke-dashoffset="1.9" />
<line x1="878.7" y1="286" x2="897.2" y2="231.8" stroke="#5a5a5a" stroke-width="0.9" stroke-dasharray="5.5 4.5" stroke-dashoffset="4.11" />
<line x1="915.7" y1="286" x2="897.2" y2="231.8" stroke="#5a5a5a" stroke-width="0.9" stroke-dasharray="5.5 4.5" stroke-dashoffset="4.11" />
<path d="M895.2,235.8 L897.2,231.8 L899.2,235.8" fill="none" stroke="#5a5a5a" stroke-width="0.9"/>
<text transform="translate(901.9,257.8) rotate(-90)" font-size="12" text-anchor="middle" fill="#000" stroke="#000" stroke-width="0.2" >70x130</text>
<line x1="882" y1="562.2" x2="921.8" y2="562.2" stroke="#5a5a5a" stroke-width="1" stroke-dasharray="4.2 5.1" stroke-dashoffset="0.8" />
<line x1="921.8" y1="562.2" x2="921.8" y2="618.2" stroke="#5a5a5a" stroke-width="1" stroke-dasharray="4.2 5.1" stroke-dashoffset="2" />
<line x1="921.8" y1="618.2" x2="882" y2="618.2" stroke="#5a5a5a" stroke-width="1" stroke-dasharray="4.2 5.1" stroke-dashoffset="0.8" />
<line x1="882" y1="618.2" x2="882" y2="562.2" stroke="#5a5a5a" stroke-width="1" stroke-dasharray="4.2 5.1" stroke-dashoffset="2" />
<line x1="883" y1="563.2" x2="901.9" y2="617.2" stroke="#5a5a5a" stroke-width="0.9" stroke-dasharray="5.5 4.5" stroke-dashoffset="4.14" />
<line x1="920.8" y1="563.2" x2="901.9" y2="617.2" stroke="#5a5a5a" stroke-width="0.9" stroke-dasharray="5.5 4.5" stroke-dashoffset="4.14" />
<path d="M899.9,613.2 L901.9,617.2 L903.9,613.2" fill="none" stroke="#5a5a5a" stroke-width="0.9"/>
<text transform="translate(907,591.7) rotate(-90)" font-size="12" text-anchor="middle" fill="#000" stroke="#000" stroke-width="0.2" >70x130</text>
<line x1="930.6" y1="562.2" x2="969.7" y2="562.2" stroke="#5a5a5a" stroke-width="1" stroke-dasharray="4.2 5.1" stroke-dashoffset="1.15" />
<line x1="969.7" y1="562.2" x2="969.7" y2="618.2" stroke="#5a5a5a" stroke-width="1" stroke-dasharray="4.2 5.1" stroke-dashoffset="2" />
<line x1="969.7" y1="618.2" x2="930.6" y2="618.2" stroke="#5a5a5a" stroke-width="1" stroke-dasharray="4.2 5.1" stroke-dashoffset="1.15" />
<line x1="930.6" y1="618.2" x2="930.6" y2="562.2" stroke="#5a5a5a" stroke-width="1" stroke-dasharray="4.2 5.1" stroke-dashoffset="2" />
<line x1="931.6" y1="563.2" x2="950.15" y2="617.2" stroke="#5a5a5a" stroke-width="0.9" stroke-dasharray="5.5 4.5" stroke-dashoffset="4.2" />
<line x1="968.7" y1="563.2" x2="950.15" y2="617.2" stroke="#5a5a5a" stroke-width="0.9" stroke-dasharray="5.5 4.5" stroke-dashoffset="4.2" />
<path d="M948.15,613.2 L950.15,617.2 L952.15,613.2" fill="none" stroke="#5a5a5a" stroke-width="0.9"/>
<text transform="translate(955.4,591.7) rotate(-90)" font-size="12" text-anchor="middle" fill="#000" stroke="#000" stroke-width="0.2" >70x130</text>
<line x1="374.1" y1="562.7" x2="413.6" y2="562.7" stroke="#5a5a5a" stroke-width="1" stroke-dasharray="4.2 5.1" stroke-dashoffset="0.95" />
<line x1="413.6" y1="562.7" x2="413.6" y2="618.1" stroke="#5a5a5a" stroke-width="1" stroke-dasharray="4.2 5.1" stroke-dashoffset="2.3" />
<line x1="413.6" y1="618.1" x2="374.1" y2="618.1" stroke="#5a5a5a" stroke-width="1" stroke-dasharray="4.2 5.1" stroke-dashoffset="0.95" />
<line x1="374.1" y1="618.1" x2="374.1" y2="562.7" stroke="#5a5a5a" stroke-width="1" stroke-dasharray="4.2 5.1" stroke-dashoffset="2.3" />
<line x1="375.1" y1="563.7" x2="393.85" y2="617.1" stroke="#5a5a5a" stroke-width="0.9" stroke-dasharray="5.5 4.5" stroke-dashoffset="4.45" />
<line x1="412.6" y1="563.7" x2="393.85" y2="617.1" stroke="#5a5a5a" stroke-width="0.9" stroke-dasharray="5.5 4.5" stroke-dashoffset="4.45" />
<path d="M391.85,613.1 L393.85,617.1 L395.85,613.1" fill="none" stroke="#5a5a5a" stroke-width="0.9"/>
<text transform="translate(398.7,592) rotate(-90)" font-size="12" text-anchor="middle" fill="#000" stroke="#000" stroke-width="0.2" >70x130</text>
<line x1="230.2" y1="492.2" x2="269.8" y2="492.2" stroke="#5a5a5a" stroke-width="1" stroke-dasharray="4.2 5.1" stroke-dashoffset="0.9" />
<line x1="269.8" y1="492.2" x2="269.8" y2="520.1" stroke="#5a5a5a" stroke-width="1" stroke-dasharray="4.2 5.1" stroke-dashoffset="6.75" />
<line x1="269.8" y1="520.1" x2="230.2" y2="520.1" stroke="#5a5a5a" stroke-width="1" stroke-dasharray="4.2 5.1" stroke-dashoffset="0.9" />
<line x1="230.2" y1="520.1" x2="230.2" y2="492.2" stroke="#5a5a5a" stroke-width="1" stroke-dasharray="4.2 5.1" stroke-dashoffset="6.75" />
<line x1="268.8" y1="493.2" x2="231.2" y2="506.15" stroke="#5a5a5a" stroke-width="0.9" stroke-dasharray="5.5 4.5" stroke-dashoffset="2.87" />
<line x1="268.8" y1="519.1" x2="231.2" y2="506.15" stroke="#5a5a5a" stroke-width="0.9" stroke-dasharray="5.5 4.5" stroke-dashoffset="2.87" />
<path d="M235.2,504.15 L231.2,506.15 L235.2,508.15" fill="none" stroke="#5a5a5a" stroke-width="0.9"/>
<text x="249.2" y="511.9" font-size="12" text-anchor="middle" fill="#000" stroke="#000" stroke-width="0.2" >50x70</text>
<line x1="302" y1="564.6" x2="330.3" y2="564.6" stroke="#5a5a5a" stroke-width="1" stroke-dasharray="4.2 5.1" stroke-dashoffset="6.55" />
<line x1="330.3" y1="564.6" x2="330.3" y2="604.6" stroke="#5a5a5a" stroke-width="1" stroke-dasharray="4.2 5.1" stroke-dashoffset="0.7" />
<line x1="330.3" y1="604.6" x2="302" y2="604.6" stroke="#5a5a5a" stroke-width="1" stroke-dasharray="4.2 5.1" stroke-dashoffset="6.55" />
<line x1="302" y1="604.6" x2="302" y2="564.6" stroke="#5a5a5a" stroke-width="1" stroke-dasharray="4.2 5.1" stroke-dashoffset="0.7" />
<line x1="303" y1="565.6" x2="316.15" y2="603.6" stroke="#5a5a5a" stroke-width="0.9" stroke-dasharray="5.5 4.5" stroke-dashoffset="2.64" />
<line x1="329.3" y1="565.6" x2="316.15" y2="603.6" stroke="#5a5a5a" stroke-width="0.9" stroke-dasharray="5.5 4.5" stroke-dashoffset="2.64" />
<text transform="translate(320.55,584.6) rotate(-90)" font-size="12" text-anchor="middle" fill="#000" stroke="#000" stroke-width="0.2" >50x70</text>
<line x1="216.4" y1="230.8" x2="511.2" y2="230.8" stroke="#7e3a3e" stroke-width="1.35" stroke-dasharray="12.2 11.6" stroke-dashoffset="1.5" />
<line x1="216.4" y1="230.8" x2="216.4" y2="618.3" stroke="#7e3a3e" stroke-width="1.35" stroke-dasharray="12.2 11.6" stroke-dashoffset="2.75" />
<line x1="216.4" y1="618.3" x2="511.2" y2="618.3" stroke="#7e3a3e" stroke-width="1.35" stroke-dasharray="12.2 11.6" stroke-dashoffset="1.5" />
<line x1="746.5" y1="230.8" x2="1043.7" y2="230.8" stroke="#7e3a3e" stroke-width="1.35" stroke-dasharray="12.2 11.6" stroke-dashoffset="0.3" />
<line x1="1043.7" y1="230.8" x2="1043.7" y2="617.9" stroke="#7e3a3e" stroke-width="1.35" stroke-dasharray="12.2 11.6" stroke-dashoffset="2.95" />
<line x1="746.5" y1="617.9" x2="1043.7" y2="617.9" stroke="#7e3a3e" stroke-width="1.35" stroke-dasharray="12.2 11.6" stroke-dashoffset="0.3" />
<line x1="269.8" y1="284.6" x2="511.2" y2="284.6" stroke="#3838a2" stroke-width="1.45" stroke-dasharray="12.2 11.6" stroke-dashoffset="4.4" />
<line x1="269.8" y1="284.6" x2="269.8" y2="564.9" stroke="#3838a2" stroke-width="1.45" stroke-dasharray="12.2 11.6" stroke-dashoffset="8.75" />
<line x1="269.8" y1="564.9" x2="511.2" y2="564.9" stroke="#3838a2" stroke-width="1.45" stroke-dasharray="12.2 11.6" stroke-dashoffset="4.4" />
<line x1="746.5" y1="284.6" x2="940.5" y2="284.6" stroke="#3838a2" stroke-width="1.45" stroke-dasharray="12.2 11.6" stroke-dashoffset="4.3" />
<line x1="965.1" y1="284.6" x2="972" y2="284.6" stroke="#3838a2" stroke-width="1.5" />
<line x1="983.6" y1="284.6" x2="990" y2="284.6" stroke="#3838a2" stroke-width="1.5" />
<line x1="990" y1="284.6" x2="990" y2="564.9" stroke="#3838a2" stroke-width="1.45" stroke-dasharray="12.2 11.6" stroke-dashoffset="8.75" />
<line x1="746.5" y1="564.9" x2="990" y2="564.9" stroke="#3838a2" stroke-width="1.45" stroke-dasharray="12.2 11.6" stroke-dashoffset="3.35" />
<path d="M587,736 L506.8,736 L506.8,666.8 L167.8,666.8 L167.8,182.4 L507,182.4 L507,154.2 L563.6,97.6 L694,97.6 L750.6,154.2 L750.6,182.4 L1092,182.4 L1092,666.8 L750.6,666.8 L750.6,736 L669.8,736" fill="none" stroke="#1c1c1c" stroke-width="1.7" stroke-linejoin="miter" />
<path d="M289.2,472.8 L188.1,472.8 L188.1,202.8 L511.2,202.8 L511.2,398.1 L527.2,398.1 L527.2,163 L572.5,117.9 L685.1,117.9 L730.3,163 L730.3,442.8 L612.8,442.8 L612.8,379.3 L527.2,379.3" fill="none" stroke="#1c1c1c" stroke-width="1.7" stroke-linejoin="miter" />
<path d="M333,472.8 L510.9,472.8 L510.9,443.2 L527.2,443.2 L527.2,481.7 L510.9,481.7 L510.9,479.7" fill="none" stroke="#1c1c1c" stroke-width="1.7" stroke-linejoin="miter" />
<path d="M289.2,472.8 L289.2,479.7 L206.4,479.7 L206.4,627 L348.6,627 L348.6,479.7 L333,479.7 L333,472.8" fill="none" stroke="#1c1c1c" stroke-width="1.7" stroke-linejoin="miter" />
<path d="M510.9,479.7 L355.1,479.7 L355.1,639.1 L511.2,639.1 L511.2,526.9 L623.4,526.9 L623.4,533.6 L527.1,533.6 L527.1,715.8 L587,715.8 L587,736" fill="none" stroke="#1c1c1c" stroke-width="1.7" stroke-linejoin="miter" />
<path d="M669.8,736 L669.8,715.8 L730.3,715.8 L730.3,533.6 L667.9,533.6 L667.9,526.9 L777,526.9 L777,533.7 L746.6,533.7 L746.6,635.8 L846,635.8 L846,533.7 L820.6,533.7 L820.6,526.9 L846,526.9 L846,488.7 L852.3,488.7 L852.3,646.5 L1072.2,646.5 L1072.2,427.9 L852.3,427.9 L852.3,445.3 L846,445.3 L846,427.9 L835.6,427.9 L835.6,421.2 L1072.2,421.2" fill="none" stroke="#1c1c1c" stroke-width="1.7" stroke-linejoin="miter" />
<path d="M791.3,428 L791.3,421.2 L746.5,421.2 L746.5,202.7 L940.5,202.7 L940.5,309.8 L965.1,309.8 L965.1,237.5 L947.1,237.5 L947.1,202.7 L1072.2,202.7 L1072.2,421.2" fill="none" stroke="#1c1c1c" stroke-width="1.7" stroke-linejoin="miter" />
<path d="M791.3,428 L730.3,428" fill="none" stroke="#1c1c1c" stroke-width="1.7" stroke-linejoin="miter" />
<rect x="289.6" y="430.6" width="3" height="42" fill="#fae4d4" stroke="#e79c72" stroke-width="0.6"/>
<rect x="289.6" y="472.6" width="1.6" height="6.6" fill="#fae4d4" stroke="#e79c72" stroke-width="0.5"/>
<path d="M289.6,430.6 A42,42 0 0 1 332,472.6 L332,479.2" fill="none" stroke="#e2895a" stroke-width="0.9"/>
<rect x="527.3" y="399.4" width="42.1" height="3" fill="#fae4d4" stroke="#e79c72" stroke-width="0.6"/>
<rect x="520.7" y="399.4" width="6.6" height="1.6" fill="#fae4d4" stroke="#e79c72" stroke-width="0.5"/>
<path d="M569.4,399.4 A42,42 0 0 1 527.3,442.6 L520.7,442.6" fill="none" stroke="#e2895a" stroke-width="0.9"/>
<rect x="527.3" y="522.4" width="41.7" height="3" fill="#fae4d4" stroke="#e79c72" stroke-width="0.6"/>
<rect x="520.7" y="523.8" width="6.6" height="1.6" fill="#fae4d4" stroke="#e79c72" stroke-width="0.5"/>
<path d="M569,525.4 A42,42 0 0 0 527.3,482.6 L520.7,482.6" fill="none" stroke="#e2895a" stroke-width="0.9"/>
<rect x="624.4" y="485" width="3" height="41.9" fill="#fae4d4" stroke="#e79c72" stroke-width="0.6"/>
<rect x="624.4" y="526.9" width="1.6" height="6.6" fill="#fae4d4" stroke="#e79c72" stroke-width="0.5"/>
<path d="M624.4,485 A42.2,42.2 0 0 1 667.2,526.9 L667.2,533.5" fill="none" stroke="#e2895a" stroke-width="0.9"/>
<rect x="791.9" y="379.2" width="3" height="42" fill="#fae4d4" stroke="#e79c72" stroke-width="0.6"/>
<rect x="791.9" y="421.2" width="1.6" height="6.6" fill="#fae4d4" stroke="#e79c72" stroke-width="0.5"/>
<path d="M791.9,379.2 A43,43 0 0 1 835.4,421.2 L835.4,427.8" fill="none" stroke="#e2895a" stroke-width="0.9"/>
<rect x="852.4" y="446.2" width="41.7" height="3" fill="#fae4d4" stroke="#e79c72" stroke-width="0.6"/>
<rect x="845.8" y="446.2" width="6.6" height="1.6" fill="#fae4d4" stroke="#e79c72" stroke-width="0.5"/>
<path d="M894.1,446.2 A42,42 0 0 1 852.4,488.6 L845.8,488.6" fill="none" stroke="#e2895a" stroke-width="0.9"/>
<rect x="816.6" y="485.4" width="3" height="41.5" fill="#fae4d4" stroke="#e79c72" stroke-width="0.6"/>
<rect x="818" y="526.9" width="1.6" height="6.6" fill="#fae4d4" stroke="#e79c72" stroke-width="0.5"/>
<path d="M819.6,485.4 A42,42 0 0 0 777.4,526.9 L777.4,533.5" fill="none" stroke="#e2895a" stroke-width="0.9"/>
<rect x="587.9" y="676.3" width="3" height="39.5" fill="#fae4d4" stroke="#e79c72" stroke-width="0.6"/>
<rect x="587.9" y="715.8" width="1.6" height="6.6" fill="#fae4d4" stroke="#e79c72" stroke-width="0.5"/>
<path d="M587.9,676.3 A40.3,40.3 0 0 1 628.2,715.8 L628.2,722.4" fill="none" stroke="#e2895a" stroke-width="0.9"/>
<rect x="665.8" y="676.3" width="3" height="39.5" fill="#fae4d4" stroke="#e79c72" stroke-width="0.6"/>
<rect x="667.2" y="715.8" width="1.6" height="6.6" fill="#fae4d4" stroke="#e79c72" stroke-width="0.5"/>
<path d="M668.8,676.3 A40.2,40.2 0 0 0 628.6,715.8 L628.6,722.4" fill="none" stroke="#e2895a" stroke-width="0.9"/>
<path d="M540.7,736.5 A95.6,95.6 0 0 0 716.1,736.5" fill="none" stroke="#444" stroke-width="0.9"/>
<path d="M544.1,736.5 A92.5,92.5 0 0 0 712.7,736.5" fill="none" stroke="#444" stroke-width="0.9"/>
<line x1="628.4" y1="713" x2="628.4" y2="787" stroke="#777" stroke-width="0.9"/>
<text transform="translate(624.1,755.3) rotate(-90)" font-size="12" text-anchor="middle" fill="#111" stroke="#111" stroke-width="0.2" >148</text>
<text transform="translate(642.1,755.3) rotate(-90)" font-size="12" text-anchor="middle" fill="#111" stroke="#111" stroke-width="0.2" >232</text>
<text x="262.5" y="228.2" font-size="12" text-anchor="start" fill="#9a3a3c" stroke="#9a3a3c" stroke-width="0.2" >h=140cm</text>
<text x="284" y="281.7" font-size="12" text-anchor="start" fill="#2e2ea4" stroke="#2e2ea4" stroke-width="0.2" >h=220cm</text>
<text x="395" y="215.7" font-size="12" text-anchor="start" fill="#111" stroke="#111" stroke-width="0.2" >h=98cm</text>
<text x="811" y="215.7" font-size="12" text-anchor="start" fill="#111" stroke="#111" stroke-width="0.2" >h=98cm</text>
<text x="935.5" y="643.9" font-size="12" text-anchor="start" fill="#111" stroke="#111" stroke-width="0.2" >h=98cm</text>
<rect x="251.2" y="615" width="49" height="8" fill="#fff"/>
<text x="251" y="624" font-size="12" text-anchor="start" fill="#111" stroke="#111" stroke-width="0.2" >h=126cm</text>
<text x="601" y="566.9" font-size="12" text-anchor="start" fill="#111" stroke="#111" stroke-width="0.2" >h=140cm</text>
<text transform="translate(201.4,403.2) rotate(-90)" font-size="12" text-anchor="middle" fill="#111" stroke="#111" stroke-width="0.2" >h=98cm</text>
<text transform="translate(1069.3,326.3) rotate(-90)" font-size="12" text-anchor="middle" fill="#111" stroke="#111" stroke-width="0.2" >h=98cm</text>
<text transform="translate(1069.3,541.5) rotate(-90)" font-size="12" text-anchor="middle" fill="#111" stroke="#111" stroke-width="0.2" >h=98cm</text>
<rect x="344.5" y="332.5" width="34" height="32" fill="#fff" stroke="#858585" stroke-width="1"/>
<text x="361.5" y="355.7" font-size="18" text-anchor="middle" fill="#000" stroke="#000" stroke-width="0.2" >2/2</text>
<rect x="278.5" y="523.5" width="33" height="32" fill="#fff" stroke="#858585" stroke-width="1"/>
<text x="295" y="546.7" font-size="18" text-anchor="middle" fill="#000" stroke="#000" stroke-width="0.2" >2/3</text>
<rect x="418.5" y="523.5" width="33" height="32" fill="#fff" stroke="#858585" stroke-width="1"/>
<text x="435" y="546.7" font-size="18" text-anchor="middle" fill="#000" stroke="#000" stroke-width="0.2" >2/4</text>
<rect x="685.5" y="462.5" width="33" height="33" fill="#fff" stroke="#858585" stroke-width="1"/>
<text x="702" y="486.2" font-size="18" text-anchor="middle" fill="#000" stroke="#000" stroke-width="0.2" >2/1</text>
<rect x="858.5" y="314.5" width="33" height="32" fill="#fff" stroke="#858585" stroke-width="1"/>
<text x="875" y="337.7" font-size="18" text-anchor="middle" fill="#000" stroke="#000" stroke-width="0.2" >2/8</text>
<rect x="926.5" y="501.5" width="33" height="32" fill="#fff" stroke="#858585" stroke-width="1"/>
<text x="943" y="524.7" font-size="18" text-anchor="middle" fill="#000" stroke="#000" stroke-width="0.2" >2/7</text>
<rect x="778.5" y="565.5" width="33" height="33" fill="#fff" stroke="#858585" stroke-width="1"/>
<text x="795" y="589.2" font-size="18" text-anchor="middle" fill="#000" stroke="#000" stroke-width="0.2" >2/6</text>
<rect x="611.5" y="589.5" width="34" height="32" fill="#fff" stroke="#858585" stroke-width="1"/>
<text x="628.5" y="612.7" font-size="18" text-anchor="middle" fill="#000" stroke="#000" stroke-width="0.2" >2/5</text>
<rect x="594.5" y="214.5" width="69" height="29" fill="#fff" stroke="#858585" stroke-width="1"/>
<text x="629" y="234.96" font-size="14.9" text-anchor="middle" fill="#000" stroke="#000" stroke-width="0.2" >antresola</text>
</g>
</svg>
</body></html>
